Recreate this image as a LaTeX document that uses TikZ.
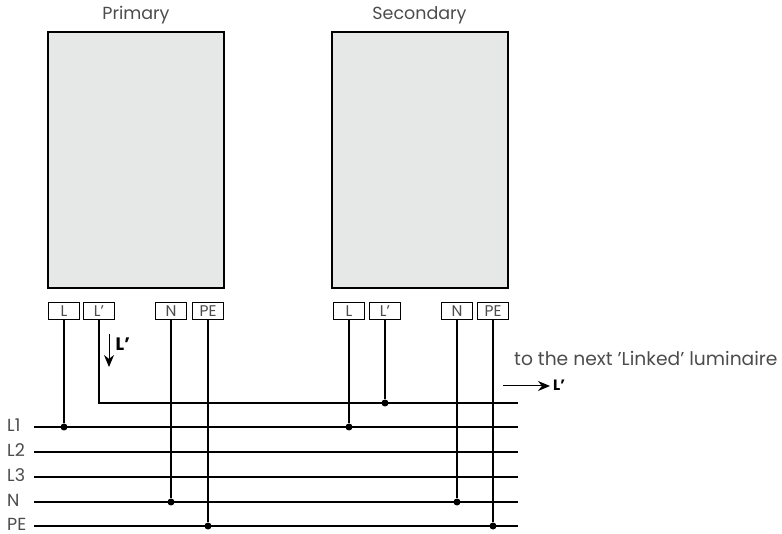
\documentclass[tikz,border=0pt]{standalone}
\usepackage{fontspec}
\setmainfont{Poppins}
\usetikzlibrary{arrows.meta}
\definecolor{lumfill}{HTML}{E6E8E7}
\begin{document}
\begin{tikzpicture}[
    x=1pt, y=-1pt,
    lum/.style={draw, line width=2.4pt, fill=lumfill, minimum width=176pt, minimum height=256pt, anchor=north west, inner sep=0pt},
    term/.style={draw, line width=1.1pt, fill=white, minimum width=31pt, minimum height=17pt, inner sep=0pt, font=\fontsize{15.5}{15.5}\selectfont, text=black!70},
    wire/.style={line width=2.2pt},
    dot/.style={circle, fill=black, inner sep=0pt, minimum size=7pt},
    lbl/.style={font=\fontsize{17.5}{17.5}\selectfont, text=black!70},
    bold/.style={font=\fontsize{15}{15}\selectfont\bfseries},
    arrow/.style={-{Stealth[length=12pt, width=10pt]}, line width=1pt}
]
    \useasboundingbox (0,0) rectangle (782,534);

    % Luminaires
    \node[lum] (prim) at (47,31) {};
    \node[lum] (sec) at (331,31) {};
    \node[lbl] (primlbl) at (136,15) {Primary};
    \node[lbl] (seclbl) at (419.5,15) {Secondary};

    % Terminals
    \node[term] (pl) at (64,311) {L};
    \node[term] (pm) at (99,311) {L'};
    \node[term] (pn) at (171,311) {N};
    \node[term] (pe) at (208,311) {PE};
    \node[term] (sl) at (349,311) {L};
    \node[term] (sm) at (385,311) {L'};
    \node[term] (sn) at (457,311) {N};
    \node[term] (se) at (493,311) {PE};

    % Supply lines
    \foreach \name/\txt/\y in {a/L1/427, b/L2/452, c/L3/477, d/N/502, e/PE/526} {
        \node[lbl, anchor=west, inner sep=0pt] (\name) at (7,\y-2) {\txt};
        \coordinate (\name0) at (34,\y);
        \coordinate (\name1) at (518,\y);
        \draw[wire] (\name0) -- (\name1);
    }

    % Linked line
    \coordinate (m0) at (pm |- 0,403);
    \coordinate (m1) at (518,403);
    \draw[wire] (pm.south) -- (m0) -- (m1);

    % Junctions
    \node[dot] (j1) at (pl |- a0) {};
    \node[dot] (j2) at (pn |- d0) {};
    \node[dot] (j3) at (pe |- e0) {};
    \node[dot] (j4) at (sl |- a0) {};
    \node[dot] (j5) at (sm |- m0) {};
    \node[dot] (j6) at (sn |- d0) {};
    \node[dot] (j7) at (se |- e0) {};

    % Drops
    \draw[wire] (pl.south) -- (j1);
    \draw[wire] (pn.south) -- (j2);
    \draw[wire] (pe.south) -- (j3);
    \draw[wire] (sl.south) -- (j4);
    \draw[wire] (sm.south) -- (j5);
    \draw[wire] (sn.south) -- (j6);
    \draw[wire] (se.south) -- (j7);

    % Current direction
    \coordinate (dn0) at (109,334);
    \coordinate (dn1) at (109,367);
    \draw[arrow] (dn0) -- (dn1);
    \node[bold, font=\fontsize{18}{18}\selectfont\bfseries, anchor=west, inner sep=0pt] (dnlbl) at (115.5,344) {L'};

    \coordinate (rt0) at (503,386);
    \coordinate (rt1) at (550,386);
    \draw[arrow] (rt0) -- (rt1);
    \node[bold, anchor=west, inner sep=0pt] (rtlbl) at (553,385) {L'};
    \node[lbl, font=\fontsize{18.7}{18.7}\selectfont, anchor=west, inner sep=0pt] (next) at (514,358) {to the next 'Linked' luminaire};
\end{tikzpicture}
\end{document}
